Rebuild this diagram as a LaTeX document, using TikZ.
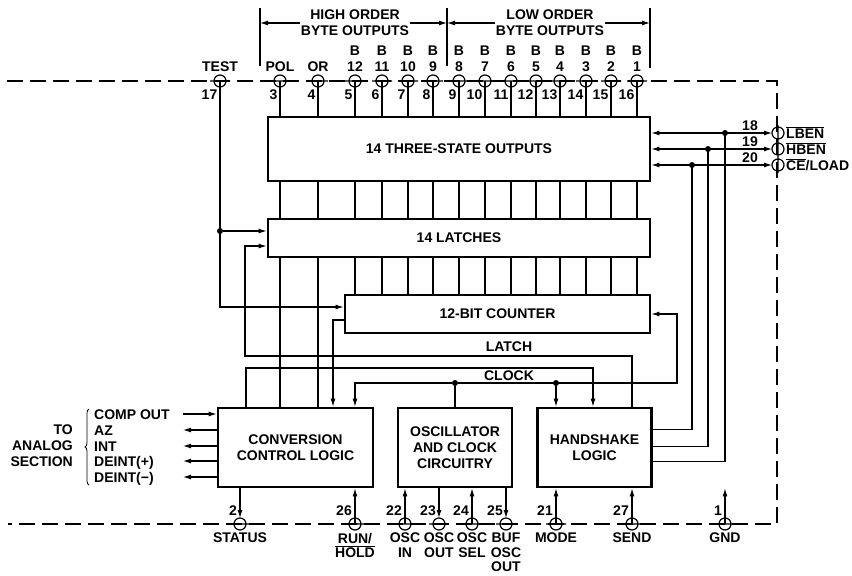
\documentclass[tikz,border=0pt]{standalone}
\usepackage{fontspec}
\setmainfont{Liberation Sans}
\usepackage{tikz}
\usetikzlibrary{arrows.meta,positioning,calc,decorations.pathreplacing}
\newcommand{\ovl}[1]{$\overline{\mbox{#1}}$}
\newcommand{\runhold}{RUN/\\\ovl{HOLD}}
\newcommand{\ceload}{\ovl{CE}/LOAD}

\begin{document}
\begin{tikzpicture}[x=1pt, y=-1pt,
    every node/.style={font=\bfseries\fontsize{14}{16}\selectfont, inner sep=1pt, align=center},
    blk/.style={draw, line width=2.8pt},
    sig/.style={line width=1.1pt},
    arr/.style={sig, -{Latex[length=8pt,width=5pt]}},
    both/.style={sig, {Latex[length=8pt,width=5pt]}-{Latex[length=8pt,width=5pt]}},
    ring/.style={line width=1.2pt},
    pinlbl/.style={anchor=north, font=\bfseries\fontsize{14}{14.5}\selectfont},
    jdot/.style={circle, fill, inner sep=0pt, minimum size=6pt}]
  \useasboundingbox (0,0) rectangle (852,576);
  \draw[sig, dash pattern=on 16pt off 7pt] (7,81) -- (777,81) -- (777,524) -- (8,524);

  \node[blk, minimum width=382pt, minimum height=64pt] (tso) at (459,149) {14 THREE-STATE OUTPUTS};
  \node[blk, minimum width=382pt, minimum height=38pt] (lat) at (459,238) {14 LATCHES};
  \node[blk, minimum width=305pt, minimum height=38pt] (cnt) at (497.5,314) {12-BIT COUNTER};
  \node[blk, minimum width=155pt, minimum height=79pt] (ccl) at (295.5,447.5) {CONVERSION\\CONTROL LOGIC};
  \node[blk, minimum width=114pt, minimum height=79pt] (osc) at (455,447.5) {OSCILLATOR\\AND CLOCK\\CIRCUITRY};
  \node[blk, minimum width=114pt, minimum height=79pt] (hs) at (594.5,447.5) {HANDSHAKE\\LOGIC};

  % top pins
  \foreach \n/\x/\num/\lab in {TEST/220/17/TEST, POL/280/3/POL, OR/318/4/OR, B12/355/5/{B\\12},
      B11/382/6/{B\\11}, B10/408/7/{B\\10}, B9/433/8/{B\\9}, B8/459/9/{B\\8}, B7/485/10/{B\\7},
      B6/511/11/{B\\6}, B5/536/12/{B\\5}, B4/560/13/{B\\4}, B3/586/14/{B\\3}, B2/611/15/{B\\2}, B1/637/16/{B\\1}} {
    \coordinate (p\n) at (\x,81);
    \draw[ring] (p\n) circle (6pt) ($(p\n)+(-10,0)$) -- ($(p\n)+(10,0)$);
    \node[anchor=south] (l\n) at (\x,73) {\lab};
    \node[anchor=north east] (n\n) at (\x-1.5,89) {\num};
  }
  \foreach \n in {POL,OR,B12,B11,B10,B9,B8,B7,B6,B5,B4,B3,B2,B1} {
    \draw[sig] (p\n) -- (p\n |- tso.north);
    \draw[sig] (p\n |- tso.south) -- (p\n |- lat.north);
  }
  \foreach \n in {B12,B11,B10,B9,B8,B7,B6,B5,B4,B3,B2,B1}
    \draw[sig] (p\n |- lat.south) -- (p\n |- cnt.north);
  \foreach \n in {POL,OR}
    \draw[sig] (p\n |- lat.south) -- (p\n |- ccl.north);

  \coordinate (barA) at (260,8);
  \coordinate (barB) at (447,8);
  \coordinate (barC) at (650,8);
  \draw[sig] (barA) -- ++(0,58) (barB) -- ++(0,58) (barC) -- ++(0,60);
  \node (hi) at (355,23) {HIGH ORDER\\BYTE OUTPUTS};
  \node (lo) at (550,23) {LOW ORDER\\BYTE OUTPUTS};
  \draw[arr] (hi.west) -- (hi.west -| barA);
  \draw[arr] (hi.east) -- (hi.east -| barB);
  \draw[arr] (lo.west) -- (lo.west -| barB);
  \draw[arr] (lo.east) -- (lo.east -| barC);

  % right pins
  \foreach \n/\y/\num/\lab in {LBEN/133/18/\ovl{LBEN}, HBEN/149/19/\ovl{HBEN}, CE/165/20/\ceload} {
    \coordinate (p\n) at (778,\y);
    \draw[ring] (p\n) circle (6pt) ($(p\n)+(0,-8)$) -- ($(p\n)+(0,8)$);
    \draw[both] (tso.east |- p\n) -- ($(p\n)+(-6,0)$);
    \node[anchor=base] (n\n) at (750,\y-3) {\num};
    \node[anchor=base west] (l\n) at (785,\y+5) {\lab};
  }
  \coordinate (jLBEN) at (725,133);
  \coordinate (jHBEN) at (708,149);
  \coordinate (jCE) at (692,165);
  \draw[sig] ([yshift=18pt]hs.east) -| (jCE);
  \draw[sig] ([yshift=1pt]hs.east) -| (jHBEN);
  \draw[sig] ([yshift=-14pt]hs.east) -| (jLBEN);
  \foreach \j in {jLBEN,jHBEN,jCE} \node[jdot] (d\j) at (\j) {};

  % bottom pins
  \foreach \n/\x/\num/\lab in {STATUS/240/2/STATUS, RUN/355/26/\runhold, OSCIN/405/22/{OSC\\IN},
      OSCOUT/439/23/{OSC\\OUT}, OSCSEL/472/24/{OSC\\SEL}, BUF/506/25/{BUF\\OSC\\OUT},
      MODE/556/21/MODE, SEND/632/27/SEND, GND/725/1/GND} {
    \coordinate (p\n) at (\x,524);
    \draw[ring] (p\n) circle (6pt) ($(p\n)+(-10,0)$) -- ($(p\n)+(10,0)$);
    \node[anchor=south east] (n\n) at (\x-2,517) {\num};
    \node[pinlbl] (l\n) at (\x,532) {\lab};
  }
  \foreach \n/\b in {RUN/ccl, OSCIN/osc, OSCSEL/osc, MODE/hs, SEND/hs}
    \draw[arr] (p\n) -- (p\n |- \b.south);
  \foreach \n/\b in {STATUS/ccl, OSCOUT/osc, BUF/osc}
    \draw[arr] (p\n |- \b.south) -- ($(p\n)+(0,-6)$);
  \draw[arr] (pGND) -- (pGND |- hs.south);

  % analog side
  \foreach \i/\y/\t in {1/414/COMP OUT, 2/430/AZ, 3/446/INT, 4/461/DEINT(+), 5/477/DEINT(−)} {
    \coordinate (s\i) at (183,\y);
    \node[anchor=base west] (t\i) at (93,\y+5) {\t};
  }
  \draw[arr] (s1) -- (ccl.west |- s1);
  \foreach \i in {2,...,5} \draw[arr] (ccl.west |- s\i) -- (s\i);
  \draw[decorate, decoration={brace, amplitude=4pt}, line width=0.8pt] (89,485) -- (89,409);
  \node[anchor=east, align=right] (ana) at (74,446) {TO\\ANALOG\\SECTION};

  % internal control lines
  \node[jdot] (tdot) at (220,231) {};
  \draw[arr] (pTEST) |- ([yshift=7pt]cnt.west);
  \draw[arr] (tdot) -- ([yshift=7pt]lat.west);
  \coordinate (lc) at (245,356);
  \draw[arr] (pSEND |- hs.north) |- (lc) |- ([yshift=-8pt]lat.west);
  \coordinate (cc1) at (246,368);
  \coordinate (cc2) at (593,368);
  \draw[arr] (ccl.north -| cc1) -- (cc1) -- (cc2) -- (hs.north -| cc2);
  \coordinate (ov) at (333,320);
  \draw[arr] (cnt.west |- ov) -- (ov) -- (ov |- ccl.north);
  \node[jdot] (clk) at (455,383) {};
  \node[jdot] (hsclk) at (pMODE |- clk) {};
  \coordinate (clkr) at (677,383);
  \draw[sig] (osc.north) -- (clk);
  \draw[arr] (clk) -| (pRUN |- ccl.north);
  \draw[arr] (clk) -| (clkr |- cnt.east) -- (cnt.east);
  \draw[arr] (hsclk) -- (hsclk |- hs.north);
  \node (latchlbl) at (509,347) {LATCH};
  \node (clocklbl) at (509,376) {CLOCK};
\end{tikzpicture}
\end{document}
